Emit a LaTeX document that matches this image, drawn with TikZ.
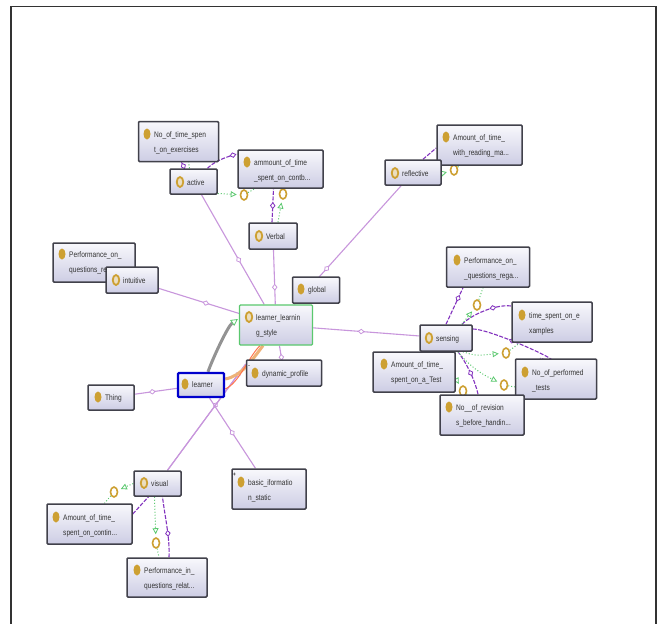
\documentclass[tikz,border=0pt]{standalone}
\usepackage{fontspec}
\setmainfont{Liberation Sans}
\usetikzlibrary{arrows.meta,backgrounds,decorations.markings,shapes.geometric}
\definecolor{lnpur}{RGB}{200,150,220}
\definecolor{dkpur}{RGB}{130,50,190}
\definecolor{grn}{RGB}{90,200,110}
\definecolor{gold}{RGB}{205,160,50}
\definecolor{bd}{RGB}{65,65,75}
\definecolor{boxtop}{RGB}{248,248,252}
\definecolor{boxbot}{RGB}{205,205,228}
\tikzset{
 x=1pt,y=-1pt,
 cls/.style={rectangle,draw=bd,line width=1.5pt,rounded corners=1pt,top color=boxtop,bottom color=boxbot,inner sep=0pt},
 focus/.style={cls,draw=grn,line width=1.2pt},
 sel/.style={cls,draw=blue!80!black,line width=2.4pt},
 sub/.style={draw=lnpur,line width=1.1pt,postaction={decorate},decoration={markings,mark=at position #1 with {\arrow{Diamond[length=7pt,width=5.5pt,fill=white,line width=.8pt]}}}},
 ind/.style={draw=dkpur,line width=1.1pt,dash pattern=on 4pt off 1.5pt,postaction={decorate},decoration={markings,mark=at position #1 with {\arrow{Diamond[length=7pt,width=5.5pt,fill=white,line width=.8pt]}}}},
 indp/.style={draw=dkpur,line width=1.1pt,dash pattern=on 4pt off 1.5pt},
 eq/.style={draw=grn,line width=1pt,dotted,-{Triangle[length=6pt,width=6pt,fill=white,line width=.8pt]},shorten >=3pt},
 eqb/.style={draw=grn,line width=1pt,dotted},
 dot/.style={ellipse,fill=gold,minimum width=7pt,minimum height=11pt,inner sep=0pt},
 dotr/.style={ellipse,draw=gold,line width=1.8pt,fill=boxtop!70!gold,minimum width=6.5pt,minimum height=10pt,inner sep=0pt},
 ring/.style={ellipse,draw=gold,line width=1.6pt,fill=white,minimum width=7pt,minimum height=10pt,inner sep=0pt},
 tx/.style={text=black!80,inner sep=0pt,anchor=base west,font=\fontsize{6.6}{8}\selectfont},
 mini/.style={text=black,inner sep=0pt,font=\fontsize{6}{6}\selectfont},
}
\newcommand{\tall}[1]{\scalebox{1}[1.22]{#1}}
\newcommand{\one}[5][dot]{\node[#1] (d#2) at (#3,#4) {}; \node[tx] (t#2) at (#3+7,#4+3) {\tall{#5}};}
\newcommand{\two}[6][dot]{\node[#1] (d#2) at (#3,#4) {}; \node[tx] (t#2) at (#3+7,#4+3) {\tall{#5}}; \node[tx] (u#2) at (#3+7,#4+18) {\tall{#6}};}
\begin{document}
\begin{tikzpicture}
\useasboundingbox (0,0) rectangle (659,624);
\coordinate (fa) at (11,6.5); \coordinate (fb) at (11,624); \coordinate (fc) at (656,624); \coordinate (fd) at (656,6.5);
\foreach \n/\x/\y in {r1/244/195,r2/283/194,r3/454/170,r4/477/305,r5/506/353,r6/504/385,r7/114/492,r8/156/543,r9/463/391}{\node[ring] (\n) at (\x,\y) {};}
% boxes
\node[cls,minimum width=80pt,minimum height=40pt] (nts) at (178.5,141.5) {};
\node[cls,minimum width=85pt,minimum height=38pt] (amt) at (280.5,169) {};
\node[cls,minimum width=85pt,minimum height=40pt] (art) at (479.5,145) {};
\node[cls,minimum width=47pt,minimum height=25pt] (act) at (193.5,181.5) {};
\node[cls,minimum width=48pt,minimum height=26pt] (vrb) at (273,236) {};
\node[cls,minimum width=56pt,minimum height=25pt] (rfl) at (413,172.5) {};
\node[cls,minimum width=82pt,minimum height=39pt] (pqr) at (94,262.5) {};
\node[cls,minimum width=52pt,minimum height=26pt] (intu) at (132,280) {};
\node[cls,minimum width=47pt,minimum height=26pt] (glb) at (316,290) {};
\node[focus,minimum width=73pt,minimum height=40pt] (lls) at (276,325) {};
\node[cls,minimum width=75pt,minimum height=26pt] (dyn) at (284,373) {};
\node[sel,minimum width=46pt,minimum height=24pt] (lrn) at (201,385) {};
\node[cls,minimum width=46pt,minimum height=25pt] (thg) at (111,397.5) {};
\node[cls,minimum width=83pt,minimum height=40pt] (pqa) at (488,267) {};
\node[cls,minimum width=80pt,minimum height=40pt] (tse) at (552,322) {};
\node[cls,minimum width=81pt,minimum height=40pt] (npt) at (556,379) {};
\node[cls,minimum width=84pt,minimum height=40pt] (nrv) at (482,415) {};
\node[cls,minimum width=82pt,minimum height=40pt] (aat) at (414,372) {};
\node[cls,minimum width=52pt,minimum height=26pt] (sens) at (446,338) {};
\node[cls,minimum width=47pt,minimum height=25pt] (vis) at (157.5,483.5) {};
\node[cls,minimum width=74pt,minimum height=40pt] (bas) at (269,489) {};
\node[cls,minimum width=85pt,minimum height=40pt] (ats) at (89.5,524) {};
\node[cls,minimum width=80pt,minimum height=39pt] (pqs) at (167,577.5) {};
\node[mini] (pl) at (234.5,475) {+};
\node[mini] (mn) at (249,366.5) {-};
% labels
\two{nts}{147}{134}{No\_of\_time\_spen}{t\_on\_exercises}
\two{amt}{247}{162}{ammount\_of\_time}{\_spent\_on\_contb...}
\two{art}{446}{137}{Amount\_of\_time\_}{with\_reading\_ma...}
\two{pqr}{62}{254}{Performance\_on\_}{questions\_re}
\two[dotr]{lls}{249}{317}{learner\_learnin}{g\_style}
\two{pqa}{457}{260}{Performance\_on\_}{\_questions\_rega...}
\two{tse}{522}{315}{time\_spent\_on\_e}{xamples}
\two{npt}{525}{372}{No\_of\_performed}{\_tests}
\two{aat}{384}{364}{Amount\_of\_time\_}{spent\_on\_a\_Test}
\two{nrv}{449}{407}{No\_\_of\_revision}{s\_before\_handin...}
\two{bas}{241}{482}{basic\_iformatio}{n\_static}
\two{ats}{56}{517}{Amount\_of\_time\_}{spent\_on\_contin...}
\two{pqs}{137}{570}{Performance\_in\_}{questions\_relat...}
\one[dotr]{act}{180}{182}{active}
\one[dotr]{vrb}{259}{236}{Verbal}
\one[dotr]{rfl}{395}{173}{reflective}
\one[dotr]{intu}{116}{280}{intuitive}
\one{glb}{301}{289}{global}
\one{dyn}{255}{373}{dynamic\_profile}
\one{lrn}{185}{384}{learner}
\one{thg}{98}{397}{Thing}
\one[dotr]{sens}{429}{338}{sensing}
\one[dotr]{vis}{144}{483}{visual}
\begin{scope}[on background layer]
\fill[white] (0,0) rectangle (659,624);
\draw[black!80,line width=1.1pt] (fb) -- (fa) -- (fd) -- (fc);
% subclass lines
\draw[sub=.5] (thg) -- (lrn);
\draw[sub=.62] ([xshift=8pt]act.south) -- (lls);
\draw[sub=.75] (vrb) -- (lls);
\draw[sub=.72] (rfl) -- (lls);
\draw[sub=.63] (intu) -- (lls);
\draw[sub=.58] (sens) -- (lls);
\draw[sub=.4] (dyn) -- (lls);
\draw[sub=.64] ([xshift=10pt]vis.north) -- ([yshift=9pt]dyn.west);
\draw[sub=.93] ([xshift=10pt]vis.north) -- ([yshift=9pt]dyn.west);
\draw[sub=.55] (bas) -- (lrn);
% thick learner--style edges
\draw[gray!85,line width=3pt,-{Triangle[length=7pt,width=7pt,fill=white,line width=.8pt,color=grn]}] ([xshift=7pt]lrn.north) .. controls +(5,-14) and +(-10,7) .. ([yshift=6pt,xshift=-1pt]lls.west);
\draw[orange!55!brown!60!white,line width=3pt] ([yshift=6pt]lrn.east) .. controls +(16,-3) and +(-12,16) .. ([xshift=-13pt]lls.south);
\draw[red!55!orange!70!white,line width=1pt] ([yshift=-4pt]lrn.east) .. controls +(14,-6) and +(-12,12) .. ([xshift=-16pt]lls.south);
% individual links
\draw[ind=.9] ([xshift=-9pt]act.north) -- ([xshift=3pt]nts.south);
\draw[ind=.97] ([xshift=14pt]act.north) .. controls +(8,-8) and +(-8,2) .. ([yshift=15pt]amt.west);
\draw[ind=.6] ([xshift=-1pt]vrb.north) -- ([xshift=-7pt]amt.south);
\draw[indp] ([xshift=10pt]rfl.north) -- ([yshift=-3pt]art.west);
\draw[ind=.8] (sens.north) -- ([xshift=-25pt]pqa.south);
\draw[ind=.72] ([xshift=16pt]sens.north) .. controls +(10,-10) and +(-15,-2) .. ([yshift=16pt]tse.west);
\draw[ind=.45] ([yshift=9pt]sens.east) .. controls +(20,0) and +(46,14) .. ([xshift=-16pt]npt.north);
\draw[ind=.55] ([xshift=-4pt]nrv.north) .. controls +(-4,-18) and +(6,8) .. ([xshift=12pt]sens.south);
\draw[indp] ([yshift=10pt]ats.east) -- ([xshift=-9pt]vis.south);
\draw[ind=.45] ([xshift=2pt]pqs.north) .. controls +(1,-20) and +(2,18) .. ([xshift=5pt]vis.south);
% equivalents
\draw[eq] ([yshift=-12pt]act.east) -- (r1); \draw[eqb] (r1) -- ([xshift=-26pt]amt.south);
\draw[eq] ([xshift=5pt]vrb.north) -- (r2); \draw[eqb] (r2) -- ([xshift=2pt]amt.south);
\draw[eq] ([yshift=-1pt]rfl.east) -- (r3); \draw[eqb] (r3) -- ([xshift=-20pt]art.south);
\draw[eqb] ([xshift=-4pt]act.north) -- ([xshift=10pt]nts.south);
\draw[eq] ([xshift=16pt]sens.north) -- (r4); \draw[eqb] (r4) -- ([xshift=-5pt]pqa.south);
\draw[eq] ([xshift=17pt]sens.south) .. controls +(12,4) .. (r5); \draw[eqb] (r5) -- ([xshift=-32pt]tse.south);
\draw[eq] ([xshift=12pt]sens.south) .. controls +(14,18) and +(-16,-8) .. (r6); \draw[eqb] (r6) -- ([yshift=-8pt]npt.west);
\draw[eq] ([xshift=-6pt]sens.south) -- (r9); \draw[eqb] (r9) -- ([xshift=-15pt]nrv.north);
\draw[eq] (vis.west) -- (r7); \draw[eqb] (r7) -- ([xshift=15pt]ats.north);
\draw[eq] ([xshift=-3pt]vis.south) -- (r8); \draw[eqb] (r8) -- ([xshift=-8pt]pqs.north);
\end{scope}
\end{tikzpicture}
\end{document}
